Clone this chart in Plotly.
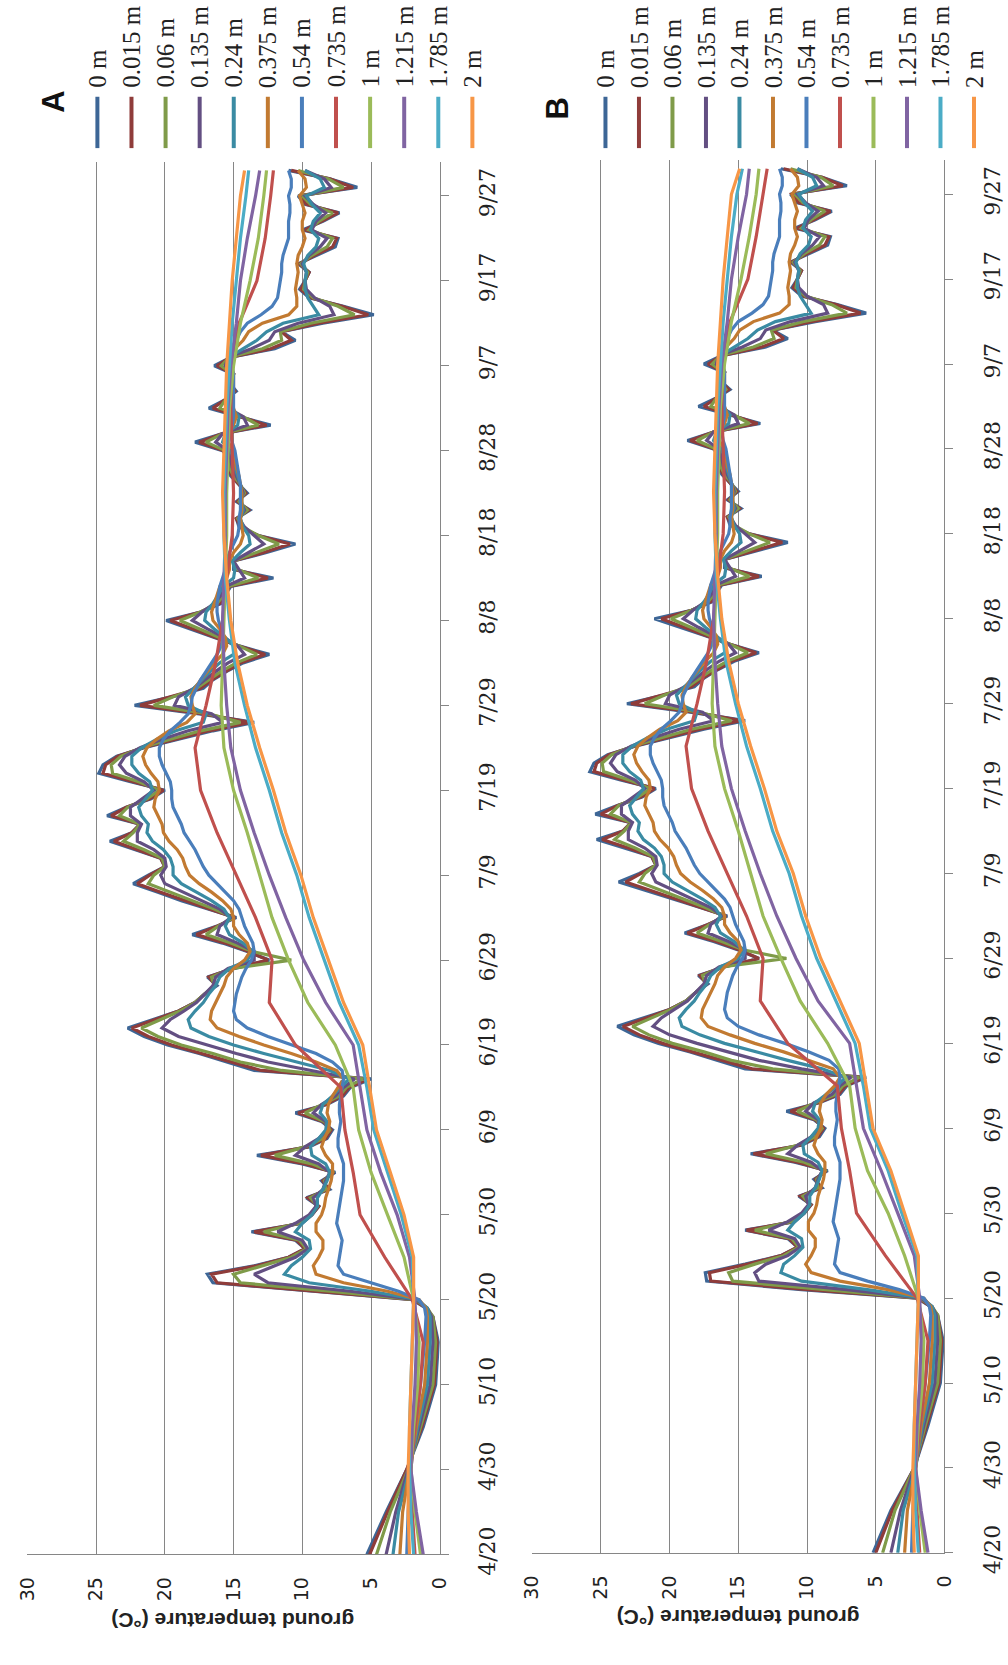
import plotly.graph_objects as go

W, H = 1008, 1665

DEPTH_LABELS = ["0 m", "0.015 m", "0.06 m", "0.135 m", "0.24 m", "0.375 m",
                "0.54 m", "0.735 m", "1 m", "1.215 m", "1.785 m", "2 m"]
LINE_COLORS = ["#3D6696", "#8F3C3A", "#7F9B49", "#634F82", "#3A8BA3", "#C27A31",
               "#4A7EBB", "#C0504D", "#9BBB59", "#8064A2", "#4BACC6", "#F79646"]

DATE_TICK_DAYS = [0, 10, 20, 30, 40, 50, 60, 70, 80, 90, 100, 110, 120, 130, 140, 150, 160]
DATE_TICK_LABELS = ["4/20", "4/30", "5/10", "5/20", "5/30", "6/9", "6/19", "6/29", "7/9",
                    "7/19", "7/29", "8/8", "8/18", "8/28", "9/7", "9/17", "9/27"]
TEMP_TICKS = [0, 5, 10, 15, 20, 25, 30]

# day index counted from 4/20
DAYS_FINE = [0, 5, 10, 15, 20, 25] + list(range(28, 164))
DAYS_COARSE = [0, 5, 10, 15, 20, 25, 30, 35, 40, 45, 50, 55, 60, 65, 70, 75, 80, 85, 90,
               95, 100, 105, 110, 115, 120, 125, 130, 135, 140, 145, 150, 155, 160, 163]

# ---------------- panel A ----------------
A_0M = [5.3, 3.9, 2.4, 1.2, 0.3, 0.1,
        0.5, 1.0, 2.0, 9.5, 16.5, 16.9, 13.5, 11.0, 9.8, 10.5,
        13.7, 10.0, 9.3, 8.8, 9.7, 8.0, 8.6, 7.6, 10.0, 13.3,
        9.5, 8.2, 7.8, 8.6, 10.5, 8.2, 7.0, 6.5, 5.0, 13.5,
        15.5, 17.5, 19.8, 21.5, 22.7, 20.8, 19.0, 17.8, 17.1, 16.2,
        16.9, 15.0, 12.4, 14.0, 15.8, 18.0, 16.2, 14.8, 16.8, 18.8,
        20.5, 22.3, 21.2, 20.0, 20.3, 22.2, 24.0, 22.4, 21.8, 24.2,
        22.8, 21.0, 20.0, 22.5, 24.8, 24.5, 23.5, 21.5, 19.0, 16.5,
        13.5, 17.5, 22.2, 19.5, 17.2, 16.5, 15.5, 14.3, 12.4, 14.6,
        16.4, 18.2, 19.9, 17.4, 15.9, 15.6, 15.2, 12.1, 15.0, 15.0,
        12.6, 10.5, 13.2, 14.6, 14.8, 13.8, 14.8, 14.0, 14.6, 15.2,
        15.5, 15.3, 15.8, 17.8, 15.8, 12.3, 14.6, 16.8, 15.6, 14.8,
        15.3, 15.0, 16.4, 15.2, 12.0, 10.5, 11.5, 8.5, 4.8, 7.0,
        9.5, 10.2, 9.8, 9.5, 10.3, 9.0, 7.6, 7.4, 10.0, 8.5,
        7.3, 9.8, 10.3, 6.0, 8.0, 11.0]
A_0015M = [5.1, 3.8, 2.4, 1.3, 0.4, 0.2,
           0.5, 1.0, 1.9, 9.0, 16.2, 16.6, 13.3, 11.0, 9.8, 10.4,
           13.5, 10.1, 9.3, 8.8, 9.6, 8.1, 8.5, 7.7, 9.8, 13.0,
           9.6, 8.3, 7.9, 8.5, 10.3, 8.3, 7.1, 6.6, 5.2, 13.0,
           15.2, 17.2, 19.5, 21.2, 22.4, 20.7, 19.0, 17.8, 17.1, 16.3,
           16.8, 15.1, 12.5, 13.9, 15.6, 17.7, 16.2, 14.9, 16.7, 18.6,
           20.3, 22.0, 21.1, 20.0, 20.3, 22.0, 23.7, 22.4, 21.8, 23.9,
           22.8, 21.1, 20.1, 22.3, 24.5, 24.3, 23.4, 21.6, 19.2, 16.8,
           13.8, 17.2, 21.8, 19.5, 17.4, 16.6, 15.6, 14.5, 12.7, 14.6,
           16.3, 18.0, 19.6, 17.4, 16.0, 15.6, 15.3, 12.5, 14.9, 15.0,
           12.8, 10.9, 13.2, 14.5, 14.8, 13.9, 14.7, 14.1, 14.6, 15.1,
           15.4, 15.3, 15.7, 17.5, 15.8, 12.6, 14.5, 16.5, 15.6, 14.9,
           15.3, 15.0, 16.2, 15.2, 12.3, 10.8, 11.5, 8.8, 5.2, 7.1,
           9.4, 10.1, 9.8, 9.5, 10.2, 9.1, 7.8, 7.5, 9.8, 8.6,
           7.4, 9.7, 10.2, 6.3, 8.0, 10.8]
A_006M = [4.6, 3.6, 2.3, 1.4, 0.5, 0.3,
          0.5, 0.9, 1.8, 8.0, 14.5, 15.0, 12.8, 10.8, 9.7, 10.2,
          12.8, 10.3, 9.4, 8.9, 9.4, 8.3, 8.4, 7.8, 9.3, 12.0,
          9.8, 8.5, 8.0, 8.4, 9.8, 8.5, 7.3, 6.8, 5.6, 11.5,
          14.5, 16.5, 18.8, 20.5, 21.7, 20.3, 18.9, 17.8, 17.1, 16.4,
          16.6, 15.2, 10.8, 13.6, 15.2, 17.0, 16.1, 15.0, 16.4, 18.0,
          19.6, 21.2, 20.8, 20.0, 20.2, 21.5, 23.0, 22.3, 21.8, 23.3,
          22.7, 21.3, 20.4, 21.9, 23.8, 23.9, 23.2, 21.7, 19.6, 17.4,
          14.5, 16.8, 20.8, 19.4, 17.7, 16.8, 15.9, 14.8, 13.3, 14.6,
          16.0, 17.5, 18.9, 17.4, 16.2, 15.7, 15.4, 13.2, 14.7, 15.0,
          13.3, 11.7, 13.2, 14.3, 14.7, 14.0, 14.6, 14.2, 14.5, 15.0,
          15.3, 15.3, 15.6, 17.0, 15.8, 13.2, 14.3, 16.0, 15.6, 15.0,
          15.3, 15.1, 15.9, 15.3, 12.9, 11.5, 11.6, 9.4, 6.2, 7.4,
          9.2, 9.9, 9.8, 9.6, 10.1, 9.3, 8.2, 7.8, 9.5, 8.8,
          7.8, 9.4, 10.0, 7.0, 8.1, 10.3]
A_0135M = [3.9, 3.2, 2.3, 1.5, 0.7, 0.5,
           0.6, 0.9, 1.7, 6.5, 12.5, 13.5, 12.0, 10.5, 9.6, 10.0,
           11.8, 10.5, 9.5, 9.0, 9.2, 8.5, 8.3, 8.0, 8.8, 10.5,
           9.8, 8.8, 8.2, 8.3, 9.2, 8.6, 7.6, 7.0, 6.2, 9.5,
           12.5, 14.8, 17.0, 19.0, 20.2, 19.6, 18.6, 17.7, 17.1, 16.5,
           16.3, 15.4, 13.5, 13.5, 14.7, 16.2, 16.0, 15.2, 16.0, 17.3,
           18.7, 20.0, 20.3, 19.9, 20.0, 20.8, 22.0, 22.0, 21.7, 22.5,
           22.5, 21.6, 20.8, 21.5, 22.8, 23.3, 22.9, 21.8, 20.2, 18.3,
           15.8, 16.6, 19.3, 19.0, 17.9, 17.1, 16.3, 15.4, 14.2, 14.7,
           15.7, 16.9, 18.0, 17.3, 16.4, 15.9, 15.6, 14.2, 14.6, 15.0,
           13.9, 12.8, 13.5, 14.2, 14.6, 14.2, 14.5, 14.3, 14.5, 14.8,
           15.1, 15.2, 15.4, 16.3, 15.8, 14.0, 14.3, 15.4, 15.5, 15.1,
           15.2, 15.1, 15.6, 15.4, 13.7, 12.4, 12.0, 10.3, 7.7, 8.0,
           9.1, 9.7, 9.8, 9.7, 10.0, 9.5, 8.7, 8.2, 9.3, 9.0,
           8.3, 9.2, 9.8, 7.9, 8.4, 9.8]
A_024M = [3.4, 3.0, 2.2, 1.6, 0.9, 0.7,
          0.7, 0.9, 1.6, 5.0, 9.5, 11.3, 10.8, 10.0, 9.4, 9.5,
          10.5, 10.0, 9.3, 8.9, 8.9, 8.5, 8.2, 8.0, 8.3, 9.3,
          9.4, 8.8, 8.3, 8.2, 8.7, 8.5, 7.8, 7.2, 6.6, 8.0,
          10.5, 12.8, 15.0, 16.8, 18.1, 18.3, 17.8, 17.2, 16.8, 16.3,
          16.0, 15.3, 14.0, 13.6, 14.3, 15.3, 15.6, 15.3, 15.7, 16.6,
          17.7, 18.8, 19.4, 19.4, 19.6, 20.1, 20.9, 21.3, 21.2, 21.7,
          21.9, 21.4, 20.9, 21.1, 21.9, 22.4, 22.4, 21.7, 20.6, 19.2,
          17.2, 17.0, 18.3, 18.5, 17.9, 17.3, 16.7, 16.0, 15.0, 15.0,
          15.6, 16.4, 17.1, 17.0, 16.5, 16.1, 15.8, 15.0, 14.9, 15.1,
          14.5, 13.8, 13.9, 14.3, 14.5, 14.3, 14.4, 14.4, 14.5, 14.7,
          14.9, 15.0, 15.2, 15.8, 15.6, 14.7, 14.6, 15.1, 15.3, 15.1,
          15.1, 15.1, 15.4, 15.3, 14.3, 13.3, 12.6, 11.4, 8.8, 9.2,
          9.6, 9.8, 9.8, 9.7, 9.9, 9.6, 9.0, 8.8, 9.4, 9.2,
          8.7, 9.3, 9.7, 8.4, 8.7, 9.8]
A_0375M = [2.9, 2.7, 2.2, 1.7, 1.1, 0.9,
           0.9, 1.0, 1.5, 3.8, 7.0, 9.0, 9.2, 8.8, 8.5, 8.5,
           9.0, 9.0, 8.6, 8.4, 8.3, 8.1, 7.9, 7.8, 7.8, 8.3,
           8.6, 8.4, 8.1, 8.0, 8.2, 8.1, 7.8, 7.4, 7.0, 7.5,
           9.0, 10.8, 12.8, 14.6, 16.2, 16.7, 16.6, 16.3, 16.0, 15.7,
           15.5, 15.0, 14.2, 13.8, 14.0, 14.6, 15.0, 15.0, 15.2, 15.8,
           16.6, 17.5, 18.2, 18.5, 18.7, 19.1, 19.7, 20.1, 20.2, 20.5,
           20.8, 20.7, 20.4, 20.5, 21.0, 21.4, 21.6, 21.3, 20.6, 19.7,
           18.4, 17.8, 18.0, 18.1, 17.8, 17.4, 16.9, 16.4, 15.8, 15.5,
           15.6, 16.0, 16.5, 16.6, 16.4, 16.2, 16.0, 15.5, 15.3, 15.3,
           15.0, 14.5, 14.3, 14.4, 14.5, 14.4, 14.4, 14.4, 14.5, 14.6,
           14.8, 14.9, 15.0, 15.4, 15.4, 15.0, 14.8, 15.0, 15.1, 15.0,
           15.0, 15.0, 15.2, 15.2, 14.9, 14.3, 13.9, 12.9, 11.0, 10.4,
           10.4, 10.5, 10.4, 10.3, 10.4, 10.3, 10.0, 9.8, 10.0, 10.0,
           9.8, 10.0, 10.2, 9.7, 9.8, 10.3]
A_054M = [2.4, 2.3, 2.1, 1.8, 1.4, 1.1,
          1.0, 1.1, 1.5, 3.0, 5.0, 7.0, 7.4, 7.3, 7.2, 7.1,
          7.3, 7.5, 7.4, 7.3, 7.2, 7.1, 7.0, 7.0, 7.0, 7.2,
          7.4, 7.4, 7.3, 7.2, 7.3, 7.3, 7.2, 7.1, 7.0, 7.1,
          7.8, 9.0, 10.7, 12.5, 14.0, 14.8, 15.0, 14.9, 14.8, 14.6,
          14.4, 14.1, 13.7, 13.5, 13.6, 13.9, 14.2, 14.4, 14.6, 15.0,
          15.6, 16.2, 16.8, 17.2, 17.5, 17.8, 18.2, 18.6, 18.8, 19.1,
          19.4, 19.5, 19.5, 19.6, 19.9, 20.2, 20.4, 20.4, 20.1, 19.6,
          18.9, 18.3, 18.1, 18.0, 17.7, 17.4, 17.0, 16.6, 16.2, 15.9,
          15.8, 15.9, 16.1, 16.2, 16.2, 16.1, 16.0, 15.8, 15.6, 15.5,
          15.3, 15.0, 14.7, 14.6, 14.6, 14.5, 14.5, 14.5, 14.5, 14.6,
          14.7, 14.8, 14.9, 15.1, 15.2, 15.1, 15.0, 15.0, 15.0, 15.0,
          15.0, 15.0, 15.1, 15.2, 15.1, 14.8, 14.5, 14.0, 13.0, 12.2,
          11.8, 11.7, 11.6, 11.5, 11.5, 11.4, 11.2, 11.0, 11.0, 11.0,
          10.9, 10.9, 11.0, 10.8, 10.8, 11.0]
A_0735M = [1.8, 2.0, 2.1, 1.8, 1.4, 1.2, 2.0, 4.0, 5.8, 6.3, 6.9, 7.2, 10.5, 12.4, 12.2, 13.4, 14.8,
           16.2, 17.4, 17.8, 17.0, 16.3, 15.8, 15.5, 15.1, 15.0, 15.1, 15.2, 15.1, 14.6, 13.3, 12.7, 12.3, 12.1]
A_1M = [1.4, 1.8, 2.1, 1.9, 1.6, 1.5, 1.9, 2.6, 3.8, 5.0, 5.9, 6.3, 7.6, 9.6, 11.0, 12.2, 13.1,
        14.0, 15.0, 15.7, 15.9, 15.8, 15.7, 15.6, 15.5, 15.5, 15.4, 15.3, 15.0, 14.5, 13.8, 13.2, 12.8, 12.6]
A_1215M = [1.2, 1.7, 2.1, 2.0, 1.8, 1.7, 1.8, 2.2, 3.1, 4.3, 5.3, 5.8, 6.3, 8.3, 9.9, 11.2, 12.4,
           13.5, 14.5, 15.2, 15.5, 15.7, 15.8, 15.7, 15.6, 15.6, 15.5, 15.4, 15.2, 14.8, 14.5, 14.0, 13.4, 13.1]
A_1785M = [1.9, 2.1, 2.2, 2.2, 2.1, 2.0, 1.9, 2.0, 2.8, 3.8, 4.8, 5.3, 5.9, 7.3, 8.4, 9.5, 10.4,
           11.5, 12.4, 13.4, 14.2, 14.9, 15.3, 15.6, 15.7, 15.7, 15.6, 15.5, 15.3, 15.1, 14.8, 14.5, 14.1, 13.9]
A_2M = [2.2, 2.3, 2.3, 2.2, 2.1, 2.0, 1.9, 1.9, 2.6, 3.6, 4.6, 5.1, 5.6, 7.0, 8.1, 9.2, 10.1,
        11.2, 12.1, 13.1, 14.0, 14.7, 15.2, 15.5, 15.7, 15.8, 15.7, 15.6, 15.5, 15.3, 15.1, 14.8, 14.5, 14.2]

# ---------------- panel B ----------------
B_0M = [5.2, 3.9, 2.2, 1.2, 0.3, 0.1,
        0.5, 1.0, 2.0, 10.4, 17.3, 17.4, 14.5, 11.9, 10.7, 11.4,
        14.5, 10.9, 10.2, 9.7, 10.6, 8.9, 9.5, 8.5, 10.9, 14.1,
        10.4, 9.1, 8.7, 9.5, 11.5, 9.1, 7.6, 7.1, 5.7, 14.5,
        16.5, 18.5, 20.8, 22.6, 23.8, 21.8, 20.0, 18.8, 18.1, 17.2,
        17.9, 16.0, 13.5, 15.0, 16.8, 18.9, 17.2, 15.8, 17.8, 19.8,
        21.7, 23.7, 22.2, 21.0, 21.3, 23.3, 25.3, 23.4, 22.8, 25.4,
        23.8, 22.0, 21.0, 23.5, 25.8, 25.5, 24.5, 22.5, 20.0, 17.5,
        14.5, 18.5, 23.1, 20.5, 18.2, 17.5, 16.5, 15.3, 13.5, 15.6,
        17.4, 19.2, 21.1, 18.4, 16.9, 16.6, 16.2, 13.3, 16.0, 16.0,
        13.6, 11.4, 14.2, 15.6, 15.8, 14.8, 15.8, 15.0, 15.6, 16.2,
        16.5, 16.3, 16.8, 18.7, 16.8, 13.4, 15.6, 17.9, 16.6, 15.6,
        16.3, 16.0, 17.5, 16.2, 13.0, 11.4, 12.5, 9.4, 5.7, 7.8,
        10.4, 11.1, 10.7, 10.4, 11.2, 9.9, 8.5, 8.3, 10.9, 9.4,
        8.2, 10.7, 11.2, 7.1, 8.9, 11.9]
B_0015M = [5.0, 3.8, 2.2, 1.3, 0.4, 0.2,
           0.5, 1.0, 1.9, 9.9, 17.0, 17.1, 14.3, 11.9, 10.7, 11.3,
           14.4, 11.0, 10.2, 9.7, 10.5, 9.0, 9.4, 8.6, 10.7, 13.9,
           10.5, 9.2, 8.8, 9.4, 11.2, 9.2, 7.7, 7.2, 5.8, 14.0,
           16.2, 18.2, 20.5, 22.2, 23.4, 21.7, 20.0, 18.8, 18.1, 17.3,
           17.8, 16.1, 13.5, 14.9, 16.6, 18.7, 17.2, 15.9, 17.7, 19.6,
           21.4, 23.2, 22.1, 21.0, 21.3, 23.0, 24.9, 23.4, 22.8, 25.0,
           23.8, 22.1, 21.1, 23.3, 25.5, 25.3, 24.4, 22.6, 20.2, 17.8,
           14.8, 18.2, 22.8, 20.5, 18.4, 17.6, 16.6, 15.5, 13.7, 15.6,
           17.3, 19.0, 20.6, 18.4, 17.0, 16.6, 16.3, 13.5, 15.9, 16.0,
           13.8, 11.8, 14.2, 15.5, 15.8, 14.9, 15.7, 15.1, 15.6, 16.1,
           16.4, 16.3, 16.7, 18.5, 16.8, 13.6, 15.5, 17.5, 16.6, 15.7,
           16.3, 16.0, 17.2, 16.2, 13.3, 11.7, 12.5, 9.7, 6.1, 7.9,
           10.3, 11.0, 10.7, 10.4, 11.1, 10.0, 8.7, 8.4, 10.7, 9.5,
           8.3, 10.6, 11.1, 7.4, 8.9, 11.7]
B_006M = [4.5, 3.6, 2.2, 1.4, 0.5, 0.3,
          0.5, 0.9, 1.8, 8.9, 15.4, 15.7, 13.8, 11.7, 10.6, 11.1,
          13.8, 11.2, 10.3, 9.8, 10.3, 9.2, 9.3, 8.7, 10.2, 13.0,
          10.7, 9.4, 8.9, 9.3, 10.7, 9.4, 7.9, 7.4, 6.2, 12.5,
          15.5, 17.5, 19.8, 21.5, 22.7, 21.3, 19.9, 18.8, 18.1, 17.4,
          17.6, 16.2, 11.5, 14.6, 16.2, 18.0, 17.1, 16.0, 17.4, 19.0,
          20.6, 22.2, 21.8, 21.0, 21.2, 22.5, 24.0, 23.3, 22.8, 24.3,
          23.7, 22.3, 21.4, 22.9, 24.8, 24.9, 24.2, 22.7, 20.6, 18.4,
          15.5, 17.8, 21.8, 20.4, 18.7, 17.8, 16.9, 15.8, 14.3, 15.6,
          17.0, 18.5, 19.9, 18.4, 17.2, 16.7, 16.4, 14.2, 15.7, 16.0,
          14.3, 12.7, 14.2, 15.3, 15.7, 15.0, 15.6, 15.2, 15.5, 16.0,
          16.3, 16.3, 16.6, 18.0, 16.8, 14.2, 15.3, 17.0, 16.6, 15.9,
          16.3, 16.1, 16.9, 16.3, 13.9, 12.4, 12.6, 10.3, 7.1, 8.2,
          10.1, 10.8, 10.7, 10.5, 11.0, 10.2, 9.1, 8.7, 10.4, 9.7,
          8.7, 10.3, 10.9, 8.1, 9.0, 11.2]
B_0135M = [3.9, 3.2, 2.2, 1.5, 0.7, 0.5,
           0.6, 0.9, 1.7, 7.1, 13.5, 13.8, 13.0, 11.4, 10.5, 10.9,
           12.8, 11.4, 10.4, 9.9, 10.1, 9.4, 9.2, 8.9, 9.7, 11.4,
           10.7, 9.7, 9.1, 9.2, 10.1, 9.5, 8.2, 7.6, 6.8, 10.4,
           13.5, 15.8, 18.0, 20.0, 21.2, 20.6, 19.6, 18.7, 18.1, 17.5,
           17.3, 16.4, 14.5, 14.5, 15.7, 17.2, 17.0, 16.2, 17.0, 18.3,
           19.7, 21.0, 21.3, 20.9, 21.0, 21.8, 23.0, 23.0, 22.7, 23.5,
           23.5, 22.6, 21.8, 22.5, 23.8, 24.3, 23.9, 22.8, 21.2, 19.3,
           16.8, 17.6, 20.3, 20.0, 18.9, 18.1, 17.3, 16.4, 15.2, 15.7,
           16.7, 17.9, 19.0, 18.3, 17.4, 16.9, 16.6, 15.2, 15.6, 16.0,
           14.9, 13.8, 14.5, 15.2, 15.6, 15.2, 15.5, 15.3, 15.5, 15.8,
           16.1, 16.2, 16.4, 17.3, 16.8, 15.0, 15.3, 16.4, 16.5, 16.1,
           16.2, 16.1, 16.6, 16.4, 14.7, 13.4, 13.0, 11.2, 8.5, 8.8,
           10.0, 10.6, 10.7, 10.6, 10.9, 10.4, 9.6, 9.1, 10.2, 9.9,
           9.2, 10.1, 10.7, 8.8, 9.3, 10.7]
B_024M = [3.4, 3.0, 2.1, 1.6, 0.9, 0.7,
          0.7, 0.9, 1.6, 5.6, 10.4, 11.9, 11.7, 10.9, 10.3, 10.4,
          11.4, 10.9, 10.2, 9.8, 9.8, 9.4, 9.1, 8.9, 9.2, 10.2,
          10.3, 9.7, 9.2, 9.1, 9.6, 9.4, 8.6, 7.8, 7.2, 8.9,
          11.4, 13.8, 16.0, 17.8, 19.1, 19.3, 18.8, 18.2, 17.8, 17.3,
          17.0, 16.3, 15.0, 14.6, 15.3, 16.3, 16.6, 16.3, 16.7, 17.6,
          18.7, 19.8, 20.4, 20.4, 20.6, 21.1, 21.9, 22.3, 22.2, 22.7,
          22.9, 22.4, 21.9, 22.1, 22.9, 23.4, 23.4, 22.7, 21.6, 20.2,
          18.2, 18.0, 19.3, 19.5, 18.9, 18.3, 17.7, 17.0, 16.0, 16.0,
          16.6, 17.4, 18.1, 18.0, 17.5, 17.1, 16.8, 16.0, 15.9, 16.1,
          15.5, 14.8, 14.9, 15.3, 15.5, 15.3, 15.4, 15.4, 15.5, 15.7,
          15.9, 16.0, 16.2, 16.8, 16.6, 15.7, 15.6, 16.1, 16.3, 16.1,
          16.1, 16.1, 16.4, 16.3, 15.3, 14.3, 13.6, 12.3, 9.7, 10.1,
          10.5, 10.7, 10.7, 10.6, 10.8, 10.5, 9.9, 9.7, 10.3, 10.1,
          9.6, 10.2, 10.6, 9.3, 9.6, 10.7]
B_0375M = [2.9, 2.7, 2.1, 1.7, 1.1, 0.9,
           0.9, 1.0, 1.5, 4.1, 7.6, 9.7, 10.1, 9.7, 9.4, 9.4,
           9.9, 9.9, 9.5, 9.3, 9.2, 9.0, 8.8, 8.7, 8.7, 9.2,
           9.5, 9.3, 9.0, 8.9, 9.1, 9.0, 8.6, 8.0, 7.6, 8.1,
           9.9, 11.7, 13.8, 15.6, 17.2, 17.7, 17.6, 17.3, 17.0, 16.7,
           16.5, 16.0, 15.2, 14.8, 15.0, 15.6, 16.0, 16.0, 16.2, 16.8,
           17.6, 18.5, 19.2, 19.5, 19.7, 20.1, 20.7, 21.1, 21.2, 21.5,
           21.8, 21.7, 21.4, 21.5, 22.0, 22.4, 22.6, 22.3, 21.6, 20.7,
           19.4, 18.8, 19.0, 19.1, 18.8, 18.4, 17.9, 17.4, 16.8, 16.5,
           16.6, 17.0, 17.5, 17.6, 17.4, 17.2, 17.0, 16.5, 16.3, 16.3,
           16.0, 15.5, 15.3, 15.4, 15.5, 15.4, 15.4, 15.4, 15.5, 15.6,
           15.8, 15.9, 16.0, 16.4, 16.4, 16.0, 15.8, 16.0, 16.1, 16.0,
           16.0, 16.0, 16.2, 16.2, 15.9, 15.3, 14.9, 13.9, 12.0, 11.3,
           11.3, 11.4, 11.3, 11.2, 11.3, 11.2, 10.9, 10.7, 10.9, 10.9,
           10.7, 10.9, 11.1, 10.6, 10.7, 11.2]
B_054M = [2.4, 2.3, 2.1, 1.8, 1.4, 1.1,
          1.0, 1.1, 1.5, 3.3, 5.6, 7.6, 8.0, 7.9, 7.8, 7.7,
          7.9, 8.1, 8.0, 7.9, 7.8, 7.7, 7.6, 7.6, 7.6, 7.8,
          8.0, 8.0, 7.9, 7.8, 7.9, 7.9, 7.8, 7.7, 7.6, 7.7,
          8.4, 9.9, 11.6, 13.5, 15.0, 15.8, 16.0, 15.9, 15.8, 15.6,
          15.4, 15.1, 14.7, 14.5, 14.6, 14.9, 15.2, 15.4, 15.6, 16.0,
          16.6, 17.2, 17.8, 18.2, 18.5, 18.8, 19.2, 19.6, 19.8, 20.1,
          20.4, 20.5, 20.5, 20.6, 20.9, 21.2, 21.4, 21.4, 21.1, 20.6,
          19.9, 19.3, 19.1, 19.0, 18.7, 18.4, 18.0, 17.6, 17.2, 16.9,
          16.8, 16.9, 17.1, 17.2, 17.2, 17.1, 17.0, 16.8, 16.6, 16.5,
          16.3, 16.0, 15.7, 15.6, 15.6, 15.5, 15.5, 15.5, 15.5, 15.6,
          15.7, 15.8, 15.9, 16.1, 16.2, 16.1, 16.0, 16.0, 16.0, 16.0,
          16.0, 16.0, 16.1, 16.2, 16.1, 15.8, 15.5, 15.0, 14.0, 13.2,
          12.8, 12.7, 12.6, 12.5, 12.5, 12.4, 12.2, 12.0, 12.0, 12.0,
          11.9, 11.9, 12.0, 11.8, 11.8, 12.0]
B_0735M = [1.8, 2.0, 2.1, 1.8, 1.4, 1.2, 2.0, 4.3, 6.4, 6.9, 7.5, 7.8, 11.4, 13.4, 13.2, 14.4, 15.8,
           17.2, 18.4, 18.8, 18.0, 17.3, 16.8, 16.5, 16.1, 16.0, 16.1, 16.2, 16.1, 15.6, 14.3, 13.7, 13.2, 12.9]
B_1M = [1.4, 1.8, 2.1, 1.9, 1.6, 1.5, 1.9, 2.9, 4.1, 5.6, 6.5, 6.9, 8.5, 10.5, 11.9, 13.2, 14.1,
        15.0, 16.0, 16.7, 16.9, 16.8, 16.7, 16.6, 16.5, 16.5, 16.4, 16.3, 16.0, 15.5, 14.8, 14.2, 13.7, 13.5]
B_1215M = [1.2, 1.7, 2.1, 2.0, 1.8, 1.7, 1.8, 2.2, 3.4, 4.6, 5.9, 6.4, 6.9, 9.2, 10.8, 12.2, 13.4,
           14.5, 15.5, 16.2, 16.5, 16.7, 16.8, 16.7, 16.6, 16.6, 16.5, 16.4, 16.2, 15.8, 15.5, 15.0, 14.4, 14.2]
B_1785M = [1.9, 2.1, 2.2, 2.2, 2.1, 2.0, 1.9, 2.0, 3.1, 4.1, 5.4, 5.9, 6.5, 7.9, 9.3, 10.4, 11.3,
           12.5, 13.4, 14.4, 15.2, 15.9, 16.3, 16.6, 16.7, 16.7, 16.6, 16.5, 16.3, 16.1, 15.8, 15.5, 15.1, 14.7]
B_2M = [2.2, 2.3, 2.3, 2.2, 2.1, 2.0, 1.9, 1.9, 2.9, 3.9, 5.2, 5.7, 6.2, 7.6, 9.0, 10.1, 11.0,
        12.2, 13.1, 14.1, 15.0, 15.7, 16.2, 16.5, 16.7, 16.8, 16.7, 16.6, 16.5, 16.3, 16.1, 15.8, 15.5, 14.9]

A_SERIES = [A_0M, A_0015M, A_006M, A_0135M, A_024M, A_0375M, A_054M,
            A_0735M, A_1M, A_1215M, A_1785M, A_2M]
B_SERIES = [B_0M, B_0015M, B_006M, B_0135M, B_024M, B_0375M, B_054M,
            B_0735M, B_1M, B_1215M, B_1785M, B_2M]
SERIES_DAYS = [DAYS_FINE] * 7 + [DAYS_COARSE] * 5

# ---------------- layout geometry (pixels) ----------------
PANELS = [
    dict(name="A", series=A_SERIES, x0=15.7, x1=437.3, yb=1574.3, yt=164.0,
         ax="", leg_x0=87.3, leg_dx=34.85, letter_x=43, letter_y=103,
         title_x=226, title_y=1641),
    dict(name="B", series=B_SERIES, x0=531.7, x1=953.3, yb=1572.7, yt=162.3,
         ax="2", leg_x0=606.7, leg_dx=34.25, letter_x=558, letter_y=110,
         title_x=742, title_y=1638),
]

GRID = "#868686"
SERIF = "DejaVu Serif"
LEG_FONT = "Liberation Serif"
SANS = "DejaVu Sans"


def px(x):
    return x / W


def py(y):
    return 1 - y / H


fig = go.Figure()
shapes, annotations = [], []
layout_axes = {}

for p in PANELS:
    xa = "x" + p["ax"]
    ya = "y" + p["ax"]
    for i, vals in enumerate(p["series"]):
        fig.add_trace(go.Scatter(
            x=vals, y=SERIES_DAYS[i], xaxis=xa, yaxis=ya, mode="lines",
            name=DEPTH_LABELS[i], line=dict(color=LINE_COLORS[i], width=3.2),
            showlegend=False, hoverinfo="skip"))
    layout_axes["xaxis" + p["ax"]] = dict(
        domain=[px(p["x0"]), px(p["x1"])], range=[30, 0], anchor=ya,
        tickvals=TEMP_TICKS, tickangle=-90, ticks="", ticklabelstandoff=14,
        tickfont=dict(family=SANS, size=19, color="#222"),
        showgrid=True, gridcolor=GRID, gridwidth=1, zeroline=False,
        showline=True, linecolor=GRID, linewidth=1, fixedrange=True)
    layout_axes["yaxis" + p["ax"]] = dict(
        domain=[py(p["yb"]), py(p["yt"])], range=[0, 164], anchor=xa, side="right",
        tickvals=DATE_TICK_DAYS, ticktext=DATE_TICK_LABELS, tickangle=-90,
        ticks="outside", ticklen=8, tickcolor=GRID, tickwidth=1, ticklabelstandoff=20,
        tickfont=dict(family=SERIF, size=22, color="#222"),
        showgrid=False, zeroline=False, showline=True, linecolor=GRID, linewidth=1,
        fixedrange=True)
    # axis title
    annotations.append(dict(
        text="ground temperature (°C)", x=px(p["title_x"]), y=py(p["title_y"]),
        xref="paper", yref="paper", showarrow=False, textangle=180,
        font=dict(family="Liberation Sans", size=21, color="#222", weight="bold"),
        xanchor="center", yanchor="middle"))
    # panel letter
    annotations.append(dict(
        text="<b>" + p["name"] + "</b>", x=px(p["letter_x"]), y=py(p["letter_y"]),
        xref="paper", yref="paper", showarrow=False, textangle=-90,
        font=dict(family="Liberation Sans", size=31, color="#111"),
        xanchor="center", yanchor="middle"))
    # legend
    for i, lab in enumerate(DEPTH_LABELS):
        lx = p["leg_x0"] + i * p["leg_dx"]
        shapes.append(dict(type="line", xref="paper", yref="paper",
                           x0=px(lx), x1=px(lx), y0=py(98), y1=py(150),
                           line=dict(color=LINE_COLORS[i], width=4)))
        annotations.append(dict(
            text=lab, x=px(lx), y=py(91), xref="paper", yref="paper",
            showarrow=False, textangle=-90, xanchor="center", yanchor="bottom",
            font=dict(family=LEG_FONT, size=25, color="#222")))

fig.update_layout(
    width=W, height=H, margin=dict(l=0, r=0, t=0, b=0),
    paper_bgcolor="white", plot_bgcolor="white", showlegend=False,
    shapes=shapes, annotations=annotations, **layout_axes)

fig.write_html("out.html", config={"displayModeBar": False})
